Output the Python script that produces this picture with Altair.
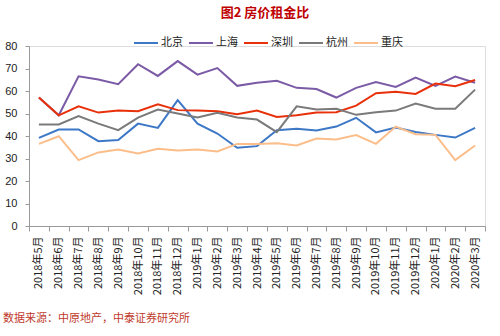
import altair as alt
import pandas as pd

months = ["2018年5月", "2018年6月", "2018年7月", "2018年8月", "2018年9月", "2018年10月",
          "2018年11月", "2018年12月", "2019年1月", "2019年2月", "2019年3月", "2019年4月",
          "2019年5月", "2019年6月", "2019年7月", "2019年8月", "2019年9月", "2019年10月",
          "2019年11月", "2019年12月", "2020年1月", "2020年2月", "2020年3月"]

cities = ["北京", "上海", "深圳", "杭州", "重庆"]
colors = ["#3D78C6", "#7B5BA6", "#E8300A", "#7A7A7A", "#FBBE8A"]

beijing = [39.2, 42.9, 42.9, 37.7, 38.2, 45.5, 43.6, 55.9, 45.5, 41.1, 34.8, 35.5,
           42.6, 43.2, 42.4, 44.2, 48.1, 41.6, 43.8, 41.8, 40.5, 39.3, 43.6]
shanghai = [57.1, 49.2, 66.5, 65.1, 63.0, 71.9, 66.7, 73.3, 67.3, 70.2, 62.3, 63.7,
            64.5, 61.4, 60.9, 57.1, 61.4, 64.0, 61.8, 66.0, 62.3, 66.4, 63.7]
shenzhen = [57.1, 49.2, 53.2, 50.4, 51.3, 51.0, 54.1, 51.5, 51.3, 51.0, 49.7, 51.3,
            48.5, 49.2, 50.4, 50.6, 53.5, 59.0, 59.7, 58.7, 63.3, 62.1, 64.9]
hangzhou = [45.1, 45.1, 48.9, 45.5, 42.6, 48.2, 51.8, 50.0, 48.2, 50.3, 48.2, 47.3,
            41.7, 53.2, 51.8, 52.1, 49.4, 50.6, 51.3, 54.4, 52.1, 52.1, 60.6]
chongqing = [36.5, 39.9, 29.3, 32.7, 34.0, 32.2, 34.3, 33.6, 34.0, 33.1, 36.5, 36.5,
             36.8, 35.8, 38.9, 38.4, 40.4, 36.5, 44.2, 40.8, 40.5, 29.3, 35.8]

title_text = "图2 房价租金比"
source_text = "数据来源：中原地产，中泰证券研究所"

series = [beijing, shanghai, shenzhen, hangzhou, chongqing]
rows = []
for city, vals in zip(cities, series):
    for m, v in zip(months, vals):
        rows.append({"month": m, "city": city, "value": v})
df = pd.DataFrame(rows)

FONT = "Noto Sans CJK SC"
AXIS_COLOR = "#9A9A9A"

lines = alt.Chart(df).mark_line(strokeWidth=2).encode(
    x=alt.X("month:N", sort=months, bandPosition=0.5,
            scale=alt.Scale(type="band", paddingInner=0, paddingOuter=0),
            axis=alt.Axis(title=None, labelAngle=-90, labelFontSize=11, labelFont=FONT,
                          labelColor="#222222", tickBand="extent", tickSize=5,
                          tickColor=AXIS_COLOR, domainColor=AXIS_COLOR, labelPadding=5,
                          grid=False)),
    y=alt.Y("value:Q", scale=alt.Scale(domain=[0, 80]),
            axis=alt.Axis(title=None, values=list(range(0, 81, 10)), labelFontSize=11,
                          labelFont="Liberation Sans", labelColor="#222222", tickSize=4,
                          tickColor=AXIS_COLOR, domainColor=AXIS_COLOR, labelPadding=8,
                          grid=False)),
    color=alt.Color("city:N", sort=cities,
                    scale=alt.Scale(domain=cities, range=colors),
                    legend=alt.Legend(title=None, orient="none", direction="horizontal",
                                      columns=5, legendX=104, legendY=-16,
                                      symbolType="stroke", symbolSize=576,
                                      symbolStrokeWidth=2, labelFontSize=11,
                                      labelFont=FONT, labelColor="#222222",
                                      labelOffset=2, columnPadding=2)),
)

source = alt.Chart(pd.DataFrame({"t": [source_text]})).mark_text(
    align="left", baseline="middle", fontSize=11, font=FONT, color="#C0392B"
).encode(text="t:N", x=alt.value(-26), y=alt.value(273))

chart = alt.layer(lines, source).properties(
    width=456, height=180,
    padding={"left": 29, "top": 46, "right": 15, "bottom": 110},
    autosize=alt.AutoSizeParams(type="none"),
    title=alt.TitleParams(title_text, fontSize=13, font=FONT, fontWeight="bold",
                          color="#C00000", anchor="middle", dx=8, offset=10),
).configure_view(stroke=None).configure(background="white")

chart.save("out.html", embed_options={"renderer": "svg", "actions": False})
